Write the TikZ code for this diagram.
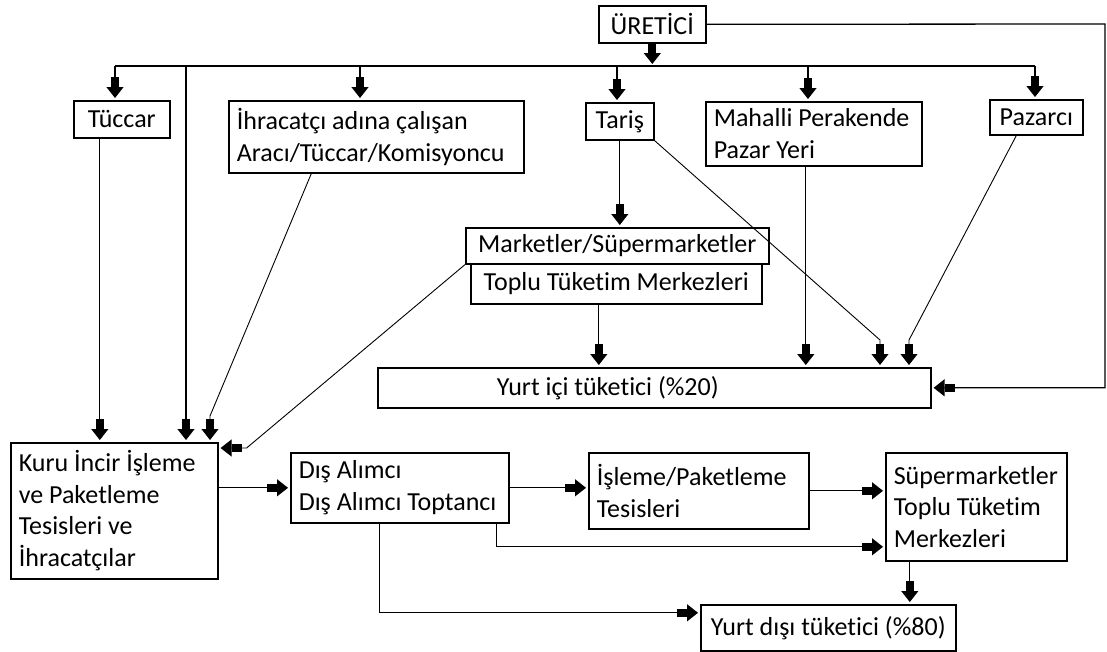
\documentclass[tikz,border=0pt]{standalone}
\usepackage{fontspec}
\setmainfont{Carlito}[Ligatures=NoCommon]
\usetikzlibrary{arrows.meta}
\hyphenpenalty=10000
\exhyphenpenalty=10000
\tikzstyle{blk}=[draw, line width=1.6pt, anchor=north west, inner xsep=8pt, inner ysep=0pt]
\tikzstyle{lft}=[align=flush left]
\tikzset{arr/.style={-{Rectangle[length=10pt,width=8pt,sep=0pt]Triangle[length=11pt,width=17pt]}, shorten >=2pt}}
\tikzset{dline/.style={line width=0.9pt}}

\begin{document}
\begin{tikzpicture}[x=1pt, y=-1pt, line width=1.3pt, font=\fontsize{26}{31.5}\selectfont]
  \useasboundingbox (0,0) rectangle (1107,651);

  \draw node at (598,5) [blk, minimum width=107pt, minimum height=37pt] (uretici) {ÜRETİCİ};
  \draw node at (73,100) [blk, minimum width=96pt, minimum height=37pt] (tuccar) {Tüccar};
  \draw node at (228,100) [blk, lft, text width=279pt, minimum height=72pt] (ihracatci) {İhracatçı~adına~çalışan\\Aracı/Tüccar/Komisyoncu};
  \draw node at (585,102) [blk, minimum width=68pt, minimum height=37pt] (taris) {Tariş};
  \draw node at (705,101) [blk, lft, text width=200pt, minimum height=64pt] (mahalli) {Mahalli~Perakende\\Pazar~Yeri};
  \draw node at (989,99) [blk, minimum width=93pt, minimum height=35pt] (pazarci) {Pazarcı};
  \draw node at (465,227) [blk, minimum width=303pt, minimum height=36pt] (mkt1) {Marketler/Süpermarketler};
  \draw node at (470,263) [blk, minimum width=291pt, minimum height=40pt] (mkt2) {Toplu Tüketim Merkezleri};
  \draw node at (377,367) [blk, lft, text width=537pt, minimum height=40pt] (yurtici) {\hspace*{111pt}Yurt~içi~tüketici~(\%20)};
  \draw node at (10,442) [blk, lft, text width=191pt, minimum height=136pt] (kuru) {Kuru~İncir~İşleme\\ve~Paketleme\\Tesisleri~ve\\İhracatçılar};
  \draw node at (290,452) [blk, lft, text width=202pt, minimum height=70pt] (dis) {Dış~Alımcı\\Dış~Alımcı~Toptancı};
  \draw node at (588,452) [blk, lft, text width=204pt, minimum height=76pt] (isleme) {İşleme/Paketleme\\Tesisleri};
  \draw node at (885,452) [blk, lft, text width=165pt, minimum height=108pt] (super) {Süpermarketler\\Toplu~Tüketim\\Merkezleri};
  \draw node at (700,604) [blk, minimum width=255pt, minimum height=46pt] (yurtdisi) {Yurt dışı tüketici (\%80)};

  \coordinate (b1) at (115,66);
  \coordinate (b2) at (186,66);
  \coordinate (b3) at (360,66);
  \coordinate (b4) at (617,66);
  \coordinate (b5) at (808,66);
  \coordinate (b6) at (1035,66);
  \coordinate (r) at (1105,24);
  \coordinate (t1) at ([xshift=-22pt]tuccar.south);
  \coordinate (i1) at ([xshift=-65pt]ihracatci.south);
  \coordinate (k3) at (210,416);
  \coordinate (k4) at ([xshift=28pt,yshift=-6pt]kuru.north east);
  \coordinate (k5) at (880,340);
  \coordinate (p1) at ([xshift=-20pt]pazarci.south);
  \coordinate (k6) at (909,340);
  \coordinate (m1) at ([xshift=-8pt]mahalli.south);
  \coordinate (q1) at ([xshift=-17.5pt]mkt2.south);
  \coordinate (d1) at ([xshift=-13pt]dis.south east);
  \coordinate (s1) at ([yshift=-40pt]super.west);
  \coordinate (d2) at ([xshift=-20pt]dis.south);
  \coordinate (y1) at ([yshift=15pt]yurtdisi.west);
  \coordinate (s2) at ([xshift=-66.5pt]super.south);

  \draw (b1) -- (b6);
  \draw [arr] (uretici) -- (uretici |- b1);
  \draw [arr] (b1) -- (b1 |- tuccar.north);
  \draw [arr] (b3) -- (b3 |- ihracatci.north);
  \draw [arr] (b4) -- (b4 |- taris.north);
  \draw [arr] (b5) -- (b5 |- mahalli.north);
  \draw [arr] (b6) -- (b6 |- pazarci.north);
  \draw [arr] (b2) -- (b2 |- kuru.north);
  \draw [arr] (uretici.east) -- (r) -- (r |- yurtici.east) -- (yurtici.east);

  \draw [arr] (t1) -- (t1 |- kuru.north);
  \draw [dline, arr] (i1) -- (k3) -- (k3 |- kuru.north);
  \draw [dline, arr] (mkt1.south west) -- (k4) -- (k4 -| kuru.east);
  \draw [arr] (taris) -- (taris |- mkt1.north);
  \draw [dline, arr] (taris.south east) -- (k5) -- (k5 |- yurtici.north);
  \draw [dline, arr] (p1) -- (k6) -- (k6 |- yurtici.north);
  \draw [arr] (m1) -- (m1 |- yurtici.north);
  \draw [arr] (q1) -- (q1 |- yurtici.north);

  \draw [arr] (kuru.east |- dis.west) -- (dis.west);
  \draw [arr] (dis.east) -- (dis.east -| isleme.west);
  \draw [arr] (isleme.east) -- (isleme.east -| super.west);
  \draw [arr] (d1) |- (s1);
  \draw [arr] (d2) |- (y1);
  \draw [arr] (s2) -- (s2 |- yurtdisi.north);
\end{tikzpicture}
\end{document}
